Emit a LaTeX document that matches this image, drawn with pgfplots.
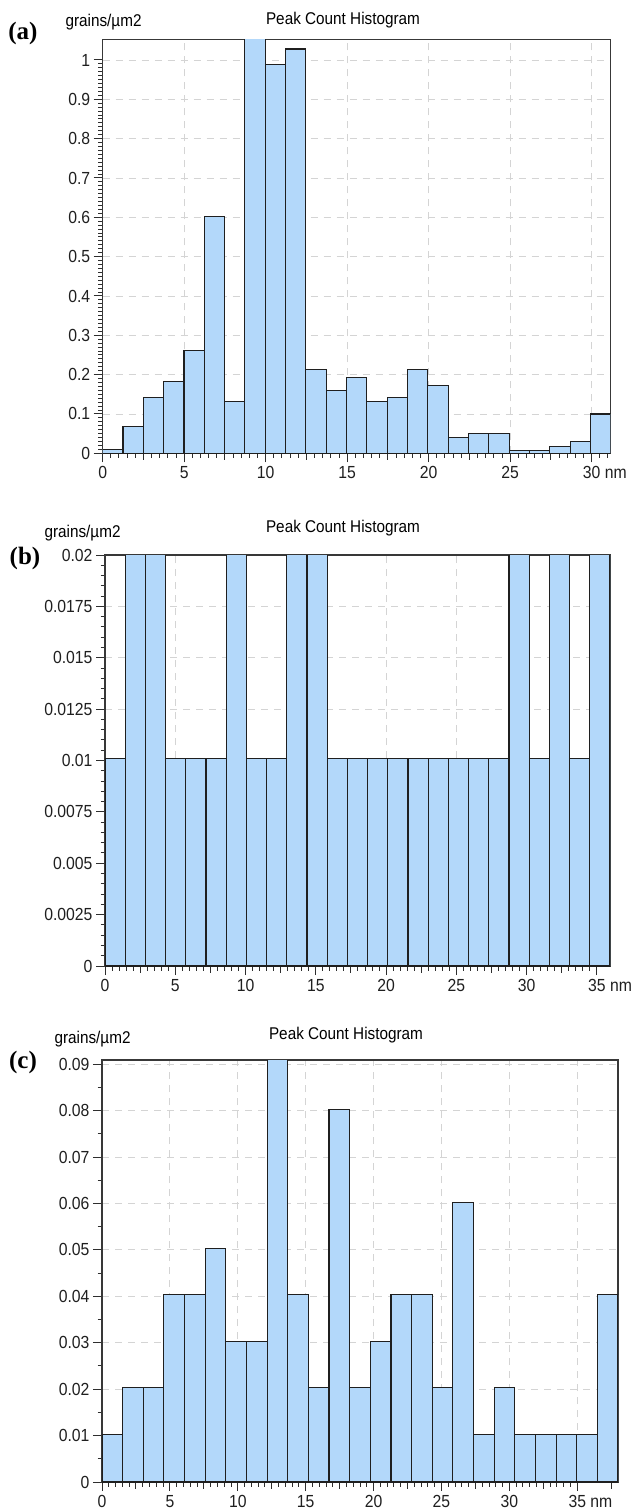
\documentclass[border=0pt]{standalone}
\usepackage{fontspec}
\setmainfont{Liberation Sans}[FakeStretch=0.9]
\newfontfamily\serifbold{Liberation Serif}
\usepackage{pgfplots}
\pgfplotsset{compat=1.18}
\definecolor{barblue}{RGB}{179,216,250}
\definecolor{gridgray}{RGB}{212,212,212}
\pgfplotsset{
  hist/.style={
    scale only axis,
    anchor=south west,
    axis line style={draw=black!78, line width=1.4pt},
    every tick/.style={draw=black!82, line width=1pt},
    major tick length=9pt,
    minor tick length=4.5pt,
    tick align=outside,
    xtick pos=left, ytick pos=left,
    xmajorgrids, ymajorgrids,
    major grid style={draw=gridgray, dash pattern=on 7pt off 6pt, line width=0.9pt},
    ticklabel style={font=\fontsize{17.5}{19}\selectfont, text=black!88},
    xticklabel style={yshift=-0.5pt},
    scaled ticks=false,
    xtick={0,5,10,15,20,25,30,35},
    minor x tick num=9,
    extra x ticks={2.5,7.5,12.5,17.5,22.5,27.5,32.5,37.5},
    extra x tick labels={},
    extra x tick style={grid=none, major tick length=6.5pt},
    ymin=0, xmin=0,
  },
  bars/.style={ybar interval, fill=barblue, draw=black!88, line width=1.1pt},
}
\begin{document}
\begin{tikzpicture}
\path[use as bounding box] (0pt,0pt) rectangle (633pt,-1512pt);
% ---------------- (a)
\node[font=\serifbold\bfseries\fontsize{25}{27}\selectfont] at (23pt,-33pt) {(a)};
\node[anchor=west, font=\fontsize{17}{19}\selectfont] at (62pt,-22pt) {grains/µm2};
\node[font=\fontsize{17}{19}\selectfont] at (343pt,-20pt) {Peak Count Histogram};
\begin{axis}[hist,
  at={(102.7pt,-453.3pt)}, width=508pt, height=414pt,
  xmax=31.17, ymax=1.0526,
  xticklabels={0,5,10,15,20,25,30\rlap{\ nm}},
  ytick={0,0.1,0.2,0.3,0.4,0.5,0.6,0.7,0.8,0.9,1},
  yticklabels={0,0.1,0.2,0.3,0.4,0.5,0.6,0.7,0.8,0.9,1},
  minor y tick num=9,
]
\addplot[bars] coordinates {
(0,0.010) (1.2468,0.069) (2.4936,0.141) (3.7404,0.182) (4.9872,0.262)
(6.234,0.603) (7.4808,0.132) (8.7276,1.060) (9.9744,0.988) (11.2212,1.028)
(12.468,0.213) (13.7148,0.160) (14.9616,0.192) (16.2084,0.131) (17.4552,0.141)
(18.702,0.213) (19.9488,0.172) (21.1956,0.041) (22.4424,0.050) (23.6892,0.050)
(24.936,0.008) (26.1828,0.008) (27.4296,0.018) (28.6764,0.031) (29.9232,0.100)
(31.17,0.100)};
\end{axis}
% ---------------- (b)
\node[font=\serifbold\bfseries\fontsize{25}{27}\selectfont] at (25pt,-558pt) {(b)};
\node[anchor=west, font=\fontsize{17}{19}\selectfont] at (41pt,-533pt) {grains/µm2};
\node[font=\fontsize{17}{19}\selectfont] at (343pt,-528pt) {Peak Count Histogram};
\begin{axis}[hist,
  at={(105pt,-966pt)}, width=505pt, height=411pt,
  xmax=35.93, ymax=0.02,
  xticklabels={0,5,10,15,20,25,30,35\rlap{\ nm}},
  ytick={0,0.0025,0.005,0.0075,0.01,0.0125,0.015,0.0175,0.02},
  yticklabels={0,0.0025,0.005,0.0075,0.01,0.0125,0.015,0.0175,0.02},
  minor y tick num=4,
]
\addplot[bars] coordinates {
(0,0.0101) (1.4372,0.0201) (2.8744,0.0201) (4.3116,0.0101) (5.7488,0.0101)
(7.186,0.0101) (8.6232,0.0201) (10.0604,0.0101) (11.4976,0.0101) (12.9348,0.0201)
(14.372,0.0201) (15.8092,0.0101) (17.2464,0.0101) (18.6836,0.0101) (20.1208,0.0101)
(21.558,0.0101) (22.9952,0.0101) (24.4324,0.0101) (25.8696,0.0101) (27.3068,0.0101)
(28.744,0.0201) (30.1812,0.0101) (31.6184,0.0201) (33.0556,0.0101) (34.4928,0.0201)
(35.93,0.0201)};
\end{axis}
% ---------------- (c)
\node[font=\serifbold\bfseries\fontsize{25}{27}\selectfont] at (23pt,-1062pt) {(c)};
\node[anchor=west, font=\fontsize{17}{19}\selectfont] at (51pt,-1039pt) {grains/µm2};
\node[font=\fontsize{17}{19}\selectfont] at (346pt,-1035pt) {Peak Count Histogram};
\begin{axis}[hist,
  at={(102pt,-1482pt)}, width=516pt, height=422pt,
  xmax=38.0, ymax=0.0909,
  xticklabels={0,5,10,15,20,25,30,35\rlap{\ nm}},
  ytick={0,0.01,0.02,0.03,0.04,0.05,0.06,0.07,0.08,0.09},
  yticklabels={0,0.01,0.02,0.03,0.04,0.05,0.06,0.07,0.08,0.09},
  minor y tick num=1,
]
\addplot[bars] coordinates {
(0,0.0103) (1.52,0.0203) (3.04,0.0203) (4.56,0.0403) (6.08,0.0403)
(7.6,0.0503) (9.12,0.0303) (10.64,0.0303) (12.16,0.0920) (13.68,0.0403)
(15.2,0.0203) (16.72,0.0803) (18.24,0.0203) (19.76,0.0303) (21.28,0.0403)
(22.8,0.0403) (24.32,0.0203) (25.84,0.0603) (27.36,0.0103) (28.88,0.0203)
(30.4,0.0103) (31.92,0.0103) (33.44,0.0103) (34.96,0.0103) (36.48,0.0403)
(38.0,0.0403)};
\end{axis}
\end{tikzpicture}
\end{document}
